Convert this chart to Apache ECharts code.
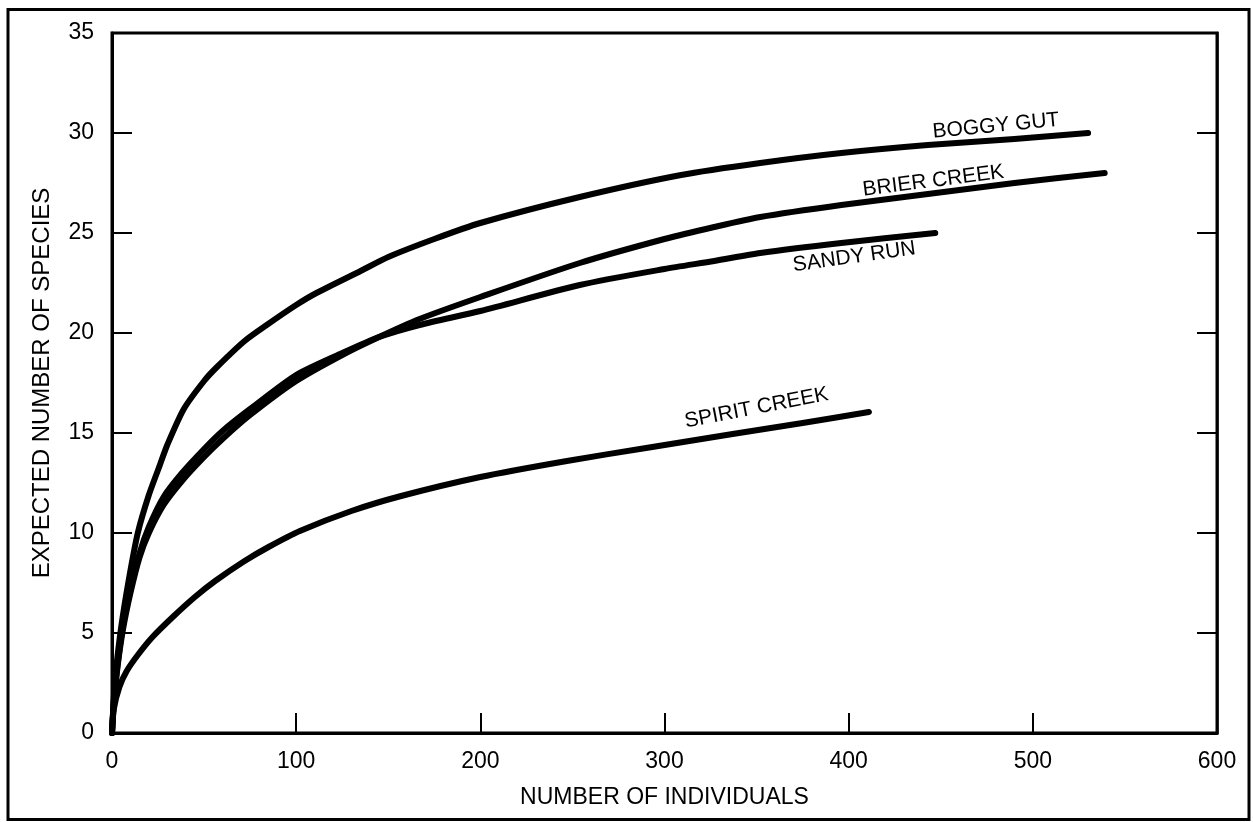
<!DOCTYPE html>
<html>
<head>
<meta charset="utf-8">
<title>Expected number of species</title>
<script src="https://cdn.jsdelivr.net/npm/echarts@6/dist/echarts.min.js"></script>
<style>
    html, body { margin: 0; padding: 0; background: #fff; }
    #content { width: 1253px; height: 822px; }
</style>
</head>
<body>
<div id="content"></div>
<script>
// rarefaction curves: number of individuals (x) -> expected number of species (y)
var boggyX = [0, 1, 2, 5, 9, 14, 20, 26, 30, 39, 50, 57, 72, 84, 100, 111, 135, 150, 175, 200, 254, 309, 352, 396, 443, 490, 530];
var boggyY = [0, 1.8, 3.0, 5.3, 7.6, 10.0, 11.9, 13.4, 14.4, 16.2, 17.6, 18.3, 19.6, 20.4, 21.4, 22.0, 23.1, 23.8, 24.7, 25.5, 26.8, 27.9, 28.5, 29.0, 29.4, 29.7, 30.0];

var brierX = [0, 1, 3, 6, 10, 15, 20, 28, 38, 50, 60, 75, 100, 125, 145, 167, 200, 254, 300, 327, 352, 396, 443, 490, 539];
var brierY = [0, 1.5, 3.3, 5.2, 7.0, 8.8, 10.0, 11.4, 12.6, 13.8, 14.7, 15.9, 17.6, 18.9, 19.8, 20.7, 21.8, 23.5, 24.7, 25.3, 25.8, 26.4, 26.95, 27.5, 28.0];

var sandyX = [0, 1, 3, 6, 10, 15, 20, 28, 38, 50, 60, 75, 100, 125, 145, 167, 200, 254, 300, 327, 352, 396, 447];
var sandyY = [0, 1.6, 3.4, 5.4, 7.2, 9.0, 10.3, 11.8, 13.0, 14.2, 15.1, 16.2, 17.9, 19.0, 19.8, 20.4, 21.1, 22.4, 23.2, 23.6, 24.0, 24.5, 25.0];

var spiritX = [0, 1, 4, 8, 14, 22, 33, 45, 56, 72, 85, 102, 130, 157, 200, 247, 290, 337, 375, 411];
var spiritY = [0, 1.2, 2.3, 3.1, 3.9, 4.8, 5.8, 6.8, 7.6, 8.6, 9.3, 10.1, 11.1, 11.85, 12.8, 13.6, 14.25, 14.95, 15.5, 16.05];

var xTicks = [0, 100, 200, 300, 400, 500, 600];
var yTicks = [0, 5, 10, 15, 20, 25, 30, 35];

var FONT = "'Liberation Sans', Arial, Helvetica, sans-serif";

function pairs(xs, ys) {
    var out = [];
    for (var i = 0; i < xs.length; i++) {
        out.push([xs[i], ys[i]]);
    }
    return out;
}

function curve(name, xs, ys) {
    return {
        name: name,
        type: "line",
        data: pairs(xs, ys),
        showSymbol: false,
        smooth: 0.25,
        clip: true,
        lineStyle: { color: "#000", width: 6, cap: "round", join: "round" },
        z: 5
    };
}

var myChart = echarts.init(document.getElementById("content"));

myChart.setOption({
    backgroundColor: "#fff",
    animation: false,
    grid: {
        left: 112,
        right: 36,
        top: 33,
        bottom: 89,
        show: true,
        borderColor: "#000",
        borderWidth: 3
    },
    xAxis: {
        type: "value",
        min: xTicks[0],
        max: xTicks[xTicks.length - 1],
        interval: 100,
        name: "NUMBER OF INDIVIDUALS",
        nameLocation: "middle",
        nameGap: 53,
        nameTextStyle: { color: "#000", fontSize: 23, fontFamily: FONT },
        axisLine: { lineStyle: { color: "#000", width: 3 } },
        axisTick: { inside: true, length: 20, lineStyle: { color: "#000", width: 2 } },
        axisLabel: { color: "#000", fontSize: 23, fontFamily: FONT, margin: 17 },
        splitLine: { show: false }
    },
    yAxis: [{
        type: "value",
        min: yTicks[0],
        max: yTicks[yTicks.length - 1],
        interval: 5,
        name: "EXPECTED NUMBER OF SPECIES",
        nameLocation: "middle",
        nameGap: 58,
        nameTextStyle: { color: "#000", fontSize: 24, fontFamily: FONT },
        axisLine: { lineStyle: { color: "#000", width: 3 } },
        axisTick: { inside: true, length: 20, lineStyle: { color: "#000", width: 2 } },
        axisLabel: { color: "#000", fontSize: 23, fontFamily: FONT, margin: 18 },
        splitLine: { show: false }
    }, {
        // right side only carries the inward ticks
        type: "value",
        position: "right",
        min: yTicks[0],
        max: yTicks[yTicks.length - 1],
        interval: 5,
        axisLine: { show: true, lineStyle: { color: "#000", width: 2.5 } },
        axisTick: { inside: true, length: 20, lineStyle: { color: "#000", width: 2 } },
        axisLabel: { show: false },
        splitLine: { show: false }
    }],
    series: [
        curve("BOGGY GUT", boggyX, boggyY),
        curve("BRIER CREEK", brierX, brierY),
        curve("SANDY RUN", sandyX, sandyY),
        curve("SPIRIT CREEK", spiritX, spiritY)
    ]
});

// curve names written along the lines, anchored in data units
function note(text, at, deg) {
    var p = myChart.convertToPixel({ gridIndex: 0 }, at);
    return {
        type: "text",
        x: p[0],
        y: p[1],
        rotation: deg * Math.PI / 180,
        z: 10,
        style: {
            text: text,
            fontSize: 21,
            fontFamily: FONT,
            fill: "#000",
            align: "center",
            verticalAlign: "middle"
        }
    };
}

myChart.setOption({
    graphic: [
        {
            type: "rect",
            shape: { x: 8, y: 9.5, width: 1241, height: 810 },
            style: { fill: null, stroke: "#000", lineWidth: 3 },
            silent: true
        },
        note("BOGGY GUT", [480, 30.35], 5.5),
        note("BRIER CREEK", [446, 27.6], 7.3),
        note("SANDY RUN", [403, 23.8], 8),
        note("SPIRIT CREEK", [350, 16.25], 11)
    ]
});
</script>
</body>
</html>
